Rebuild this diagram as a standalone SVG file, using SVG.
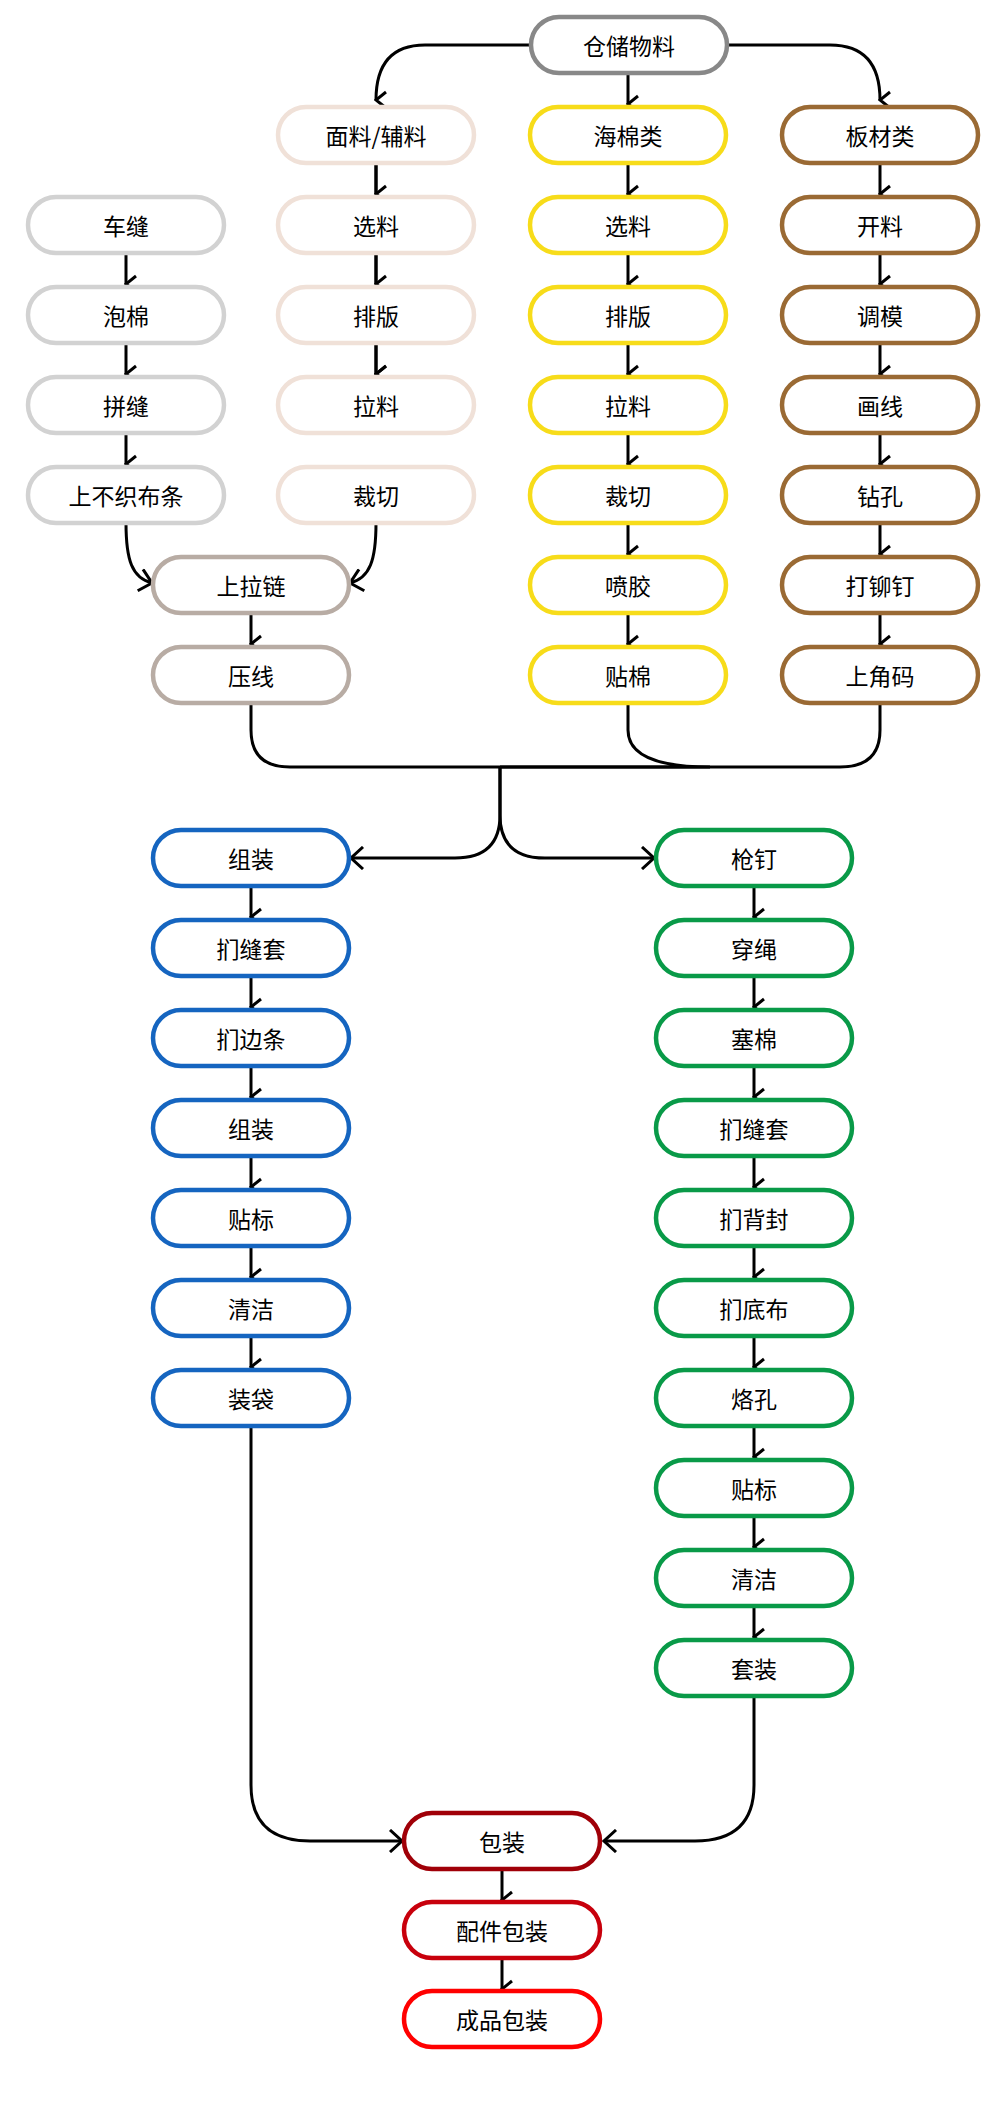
<svg xmlns="http://www.w3.org/2000/svg" width="1000" height="2115" viewBox="0 0 1000 2115">
<defs>
<marker id="a" viewBox="0 0 20 20" refX="10" refY="18" markerWidth="20" markerHeight="20" markerUnits="userSpaceOnUse" orient="auto-start-reverse">
<path d="M2 8 L10 18 L18 8" fill="none" stroke="#000" stroke-width="3"/>
</marker>
<marker id="h" viewBox="0 0 20 24" refX="18" refY="12" markerWidth="20" markerHeight="24" markerUnits="userSpaceOnUse" orient="auto">
<path d="M6 1 L18 12 L6 23" fill="none" stroke="#000" stroke-width="3"/>
</marker>
</defs>
<style>
rect{fill:#fff;stroke-width:4.5}
text{font-family:"Noto Sans CJK SC","Noto Sans",sans-serif;font-size:23px;text-anchor:middle;dominant-baseline:central;fill:#000}
.c path{fill:none;stroke:#000;stroke-width:3}
.g0 rect{stroke:#888}.g1 rect{stroke:#f0e1d8}.g2 rect{stroke:#f7dc1a}.g3 rect{stroke:#9a6a34}.g4 rect{stroke:#d2d2d2}.g5 rect{stroke:#b8aca4}.g6 rect{stroke:#1565c0}.g7 rect{stroke:#099a48}
</style>
<g class="c">
<path d="M531 45 H425 Q376 45 376 100" marker-end="url(#a)"/>
<path d="M726 45 H830 Q880 45 880 100" marker-end="url(#a)"/>
<path d="M628 73 V104" marker-end="url(#a)"/>
<path d="M376 163 V194 M376 253 V284 M376 343 V374" marker-end="url(#a)"/>
<path d="M376 163 V194" marker-end="url(#a)"/><path d="M376 253 V284" marker-end="url(#a)"/><path d="M376 343 V374" marker-end="url(#a)"/>
<path d="M628 163 V194" marker-end="url(#a)"/><path d="M628 253 V284" marker-end="url(#a)"/><path d="M628 343 V374" marker-end="url(#a)"/><path d="M628 433 V464" marker-end="url(#a)"/><path d="M628 523 V554" marker-end="url(#a)"/><path d="M628 613 V644" marker-end="url(#a)"/>
<path d="M880 163 V194" marker-end="url(#a)"/><path d="M880 253 V284" marker-end="url(#a)"/><path d="M880 343 V374" marker-end="url(#a)"/><path d="M880 433 V464" marker-end="url(#a)"/><path d="M880 523 V554" marker-end="url(#a)"/><path d="M880 613 V644" marker-end="url(#a)"/>
<path d="M126 253 V284" marker-end="url(#a)"/><path d="M126 343 V374" marker-end="url(#a)"/><path d="M126 433 V464" marker-end="url(#a)"/>
<path d="M126 523 C126 560 132 578 152 583" marker-end="url(#h)"/>
<path d="M376 523 C376 560 370 578 350 583" marker-end="url(#h)"/>
<path d="M251 613 V644" marker-end="url(#a)"/>
<path d="M251 703 V730 Q251 767 290 767 H710 Q628 767 628 730 V703"/>
<path d="M880 703 V730 Q880 767 840 767 H500"/>
<path d="M500 767 V815 Q500 858 455 858 H351" marker-end="url(#h)"/>
<path d="M500 767 V815 Q500 858 545 858 H654" marker-end="url(#h)"/>
<path d="M251 886 V917" marker-end="url(#a)"/><path d="M251 976 V1007" marker-end="url(#a)"/><path d="M251 1066 V1097" marker-end="url(#a)"/><path d="M251 1156 V1187" marker-end="url(#a)"/><path d="M251 1246 V1277" marker-end="url(#a)"/><path d="M251 1336 V1367" marker-end="url(#a)"/>
<path d="M754 886 V917" marker-end="url(#a)"/><path d="M754 976 V1007" marker-end="url(#a)"/><path d="M754 1066 V1097" marker-end="url(#a)"/><path d="M754 1156 V1187" marker-end="url(#a)"/><path d="M754 1246 V1277" marker-end="url(#a)"/><path d="M754 1336 V1367" marker-end="url(#a)"/><path d="M754 1426 V1457" marker-end="url(#a)"/><path d="M754 1516 V1547" marker-end="url(#a)"/><path d="M754 1606 V1637" marker-end="url(#a)"/>
<path d="M251 1426 V1785 Q251 1841 310 1841 H402" marker-end="url(#h)"/>
<path d="M754 1696 V1785 Q754 1841 695 1841 H604" marker-end="url(#h)"/>
<path d="M502 1869 V1900" marker-end="url(#a)"/><path d="M502 1958 V1989" marker-end="url(#a)"/>
</g>
<g class="g0"><g id="n0"><rect x="531" y="17" width="196" height="56" rx="28"/><text x="629" y="45">仓储物料</text></g></g>
<g class="g1">
<g id="m1"><rect x="278" y="107" width="196" height="56" rx="28"/><text x="376" y="135">面料/辅料</text></g>
<g id="m2"><rect x="278" y="197" width="196" height="56" rx="28"/><text x="376" y="225">选料</text></g>
<g id="m3"><rect x="278" y="287" width="196" height="56" rx="28"/><text x="376" y="315">排版</text></g>
<g id="m4"><rect x="278" y="377" width="196" height="56" rx="28"/><text x="376" y="405">拉料</text></g>
<g id="m5"><rect x="278" y="467" width="196" height="56" rx="28"/><text x="376" y="495">裁切</text></g>
</g>
<g class="g2">
<g id="s1"><rect x="530" y="107" width="196" height="56" rx="28"/><text x="628" y="135">海棉类</text></g>
<g id="s2"><rect x="530" y="197" width="196" height="56" rx="28"/><text x="628" y="225">选料</text></g>
<g id="s3"><rect x="530" y="287" width="196" height="56" rx="28"/><text x="628" y="315">排版</text></g>
<g id="s4"><rect x="530" y="377" width="196" height="56" rx="28"/><text x="628" y="405">拉料</text></g>
<g id="s5"><rect x="530" y="467" width="196" height="56" rx="28"/><text x="628" y="495">裁切</text></g>
<g id="s6"><rect x="530" y="557" width="196" height="56" rx="28"/><text x="628" y="585">喷胶</text></g>
<g id="s7"><rect x="530" y="647" width="196" height="56" rx="28"/><text x="628" y="675">贴棉</text></g>
</g>
<g class="g3">
<g id="b1"><rect x="782" y="107" width="196" height="56" rx="28"/><text x="880" y="135">板材类</text></g>
<g id="b2"><rect x="782" y="197" width="196" height="56" rx="28"/><text x="880" y="225">开料</text></g>
<g id="b3"><rect x="782" y="287" width="196" height="56" rx="28"/><text x="880" y="315">调模</text></g>
<g id="b4"><rect x="782" y="377" width="196" height="56" rx="28"/><text x="880" y="405">画线</text></g>
<g id="b5"><rect x="782" y="467" width="196" height="56" rx="28"/><text x="880" y="495">钻孔</text></g>
<g id="b6"><rect x="782" y="557" width="196" height="56" rx="28"/><text x="880" y="585">打铆钉</text></g>
<g id="b7"><rect x="782" y="647" width="196" height="56" rx="28"/><text x="880" y="675">上角码</text></g>
</g>
<g class="g4">
<g id="c1"><rect x="28" y="197" width="196" height="56" rx="28"/><text x="126" y="225">车缝</text></g>
<g id="c2"><rect x="28" y="287" width="196" height="56" rx="28"/><text x="126" y="315">泡棉</text></g>
<g id="c3"><rect x="28" y="377" width="196" height="56" rx="28"/><text x="126" y="405">拼缝</text></g>
<g id="c4"><rect x="28" y="467" width="196" height="56" rx="28"/><text x="126" y="495">上不织布条</text></g>
</g>
<g class="g5">
<g id="z1"><rect x="153" y="557" width="196" height="56" rx="28"/><text x="251" y="585">上拉链</text></g>
<g id="z2"><rect x="153" y="647" width="196" height="56" rx="28"/><text x="251" y="675">压线</text></g>
</g>
<g class="g6">
<g id="l1"><rect x="153" y="830" width="196" height="56" rx="28"/><text x="251" y="858">组装</text></g>
<g id="l2"><rect x="153" y="920" width="196" height="56" rx="28"/><text x="251" y="948">扪缝套</text></g>
<g id="l3"><rect x="153" y="1010" width="196" height="56" rx="28"/><text x="251" y="1038">扪边条</text></g>
<g id="l4"><rect x="153" y="1100" width="196" height="56" rx="28"/><text x="251" y="1128">组装</text></g>
<g id="l5"><rect x="153" y="1190" width="196" height="56" rx="28"/><text x="251" y="1218">贴标</text></g>
<g id="l6"><rect x="153" y="1280" width="196" height="56" rx="28"/><text x="251" y="1308">清洁</text></g>
<g id="l7"><rect x="153" y="1370" width="196" height="56" rx="28"/><text x="251" y="1398">装袋</text></g>
</g>
<g class="g7">
<g id="r1"><rect x="656" y="830" width="196" height="56" rx="28"/><text x="754" y="858">枪钉</text></g>
<g id="r2"><rect x="656" y="920" width="196" height="56" rx="28"/><text x="754" y="948">穿绳</text></g>
<g id="r3"><rect x="656" y="1010" width="196" height="56" rx="28"/><text x="754" y="1038">塞棉</text></g>
<g id="r4"><rect x="656" y="1100" width="196" height="56" rx="28"/><text x="754" y="1128">扪缝套</text></g>
<g id="r5"><rect x="656" y="1190" width="196" height="56" rx="28"/><text x="754" y="1218">扪背封</text></g>
<g id="r6"><rect x="656" y="1280" width="196" height="56" rx="28"/><text x="754" y="1308">扪底布</text></g>
<g id="r7"><rect x="656" y="1370" width="196" height="56" rx="28"/><text x="754" y="1398">烙孔</text></g>
<g id="r8"><rect x="656" y="1460" width="196" height="56" rx="28"/><text x="754" y="1488">贴标</text></g>
<g id="r9"><rect x="656" y="1550" width="196" height="56" rx="28"/><text x="754" y="1578">清洁</text></g>
<g id="r10"><rect x="656" y="1640" width="196" height="56" rx="28"/><text x="754" y="1668">套装</text></g>
</g>
<g id="p1"><rect x="404" y="1813" width="196" height="56" rx="28" stroke="#a00008"/><text x="502" y="1841">包装</text></g>
<g id="p2"><rect x="404" y="1902" width="196" height="56" rx="28" stroke="#c8000c"/><text x="502" y="1930">配件包装</text></g>
<g id="p3"><rect x="404" y="1991" width="196" height="56" rx="28" stroke="#ff0000"/><text x="502" y="2019">成品包装</text></g>
</svg>
